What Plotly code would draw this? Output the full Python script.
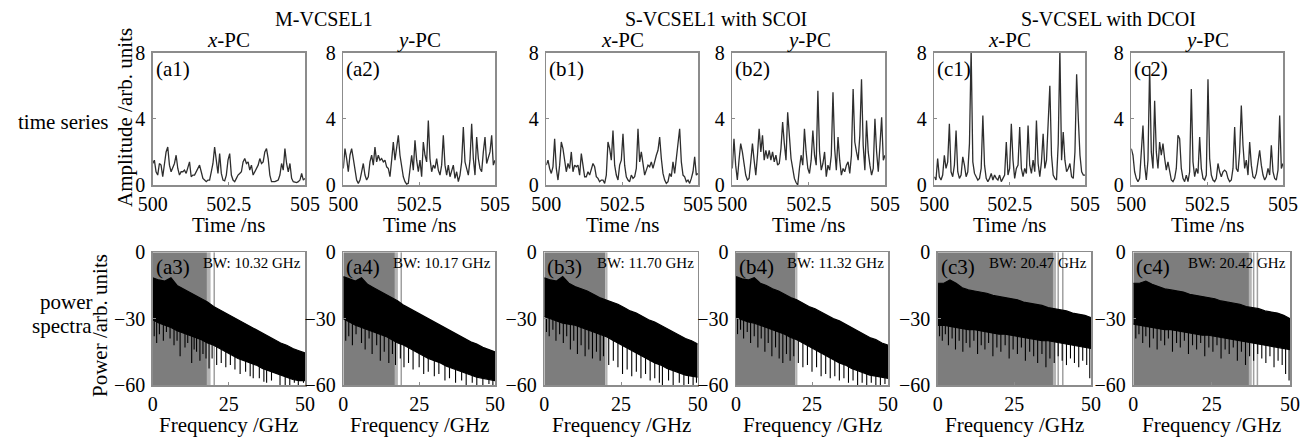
import numpy as np
import plotly.graph_objects as go

W, H = 1311, 439
FONT = "Liberation Serif"

# ---------------- data ----------------
time_ticks = [500, 502.5, 505]
time_ticktext = ["500", "502.5", "505"]
amp_ticks = [0, 4, 8]
freq_ticks = [0, 25, 50]
power_ticks = [-60, -30, 0]
power_ticktext = ["−60", "−30", "0"]

# time series amplitudes (uniformly sampled across 500-505 ns)
amp_a1 = [1.3,1.5,0.8,0.6,1.3,1.2,0.5,1.4,2.0,2.3, 1.2,0.8,1.1,1.3,1.8,1.0,0.6,0.8,0.8,0.9,
          0.7,1.1,1.4,0.5,0.6,0.6,0.8,1.0,1.2,0.8, 0.4,0.3,0.2,0.3,0.3,0.8,1.3,2.3,1.4,0.7,
          1.9,0.7,0.3,0.25,0.6,1.5,1.9,0.6,0.3,0.2, 0.4,0.6,0.7,0.8,1.4,1.6,1.3,1.4,0.9,1.2,
          0.6,0.8,1.0,1.2,1.6,1.3,1.4,2.0,2.2,1.6, 0.6,0.2,0.2,0.2,0.25,0.3,0.6,1.3,0.9,2.2,
          1.3,0.8,1.3,0.4,0.2,0.15,0.15,0.2,0.3,0.7, 0.3,0.4]
amp_a2 = [1.0,2.2,1.6,0.8,1.8,2.2,1.6,0.8,0.3,0.1, 0.3,0.8,1.3,0.6,0.3,0.5,1.4,1.8,1.2,2.3,
          1.4,1.8,1.5,1.6,1.4,1.5,1.1,1.0,0.5,1.5, 2.6,1.5,2.3,3.0,1.8,1.1,0.5,0.2,0.05,0.1,
          0.9,1.8,0.9,2.7,1.5,0.8,1.5,0.5,2.6,1.8, 1.4,3.9,1.6,0.8,1.2,1.0,1.6,0.9,0.6,1.2,
          3.0,1.2,0.6,1.2,0.5,0.8,1.2,0.4,0.8,0.2, 0.6,1.4,3.5,1.4,1.0,0.6,1.5,3.7,1.6,0.6,
          2.9,1.6,1.0,0.8,2.0,2.9,1.3,1.6,2.0,3.0, 1.2,1.5]
amp_b1 = [1.2,1.5,1.0,0.7,1.1,2.8,1.0,0.3,1.2,2.6, 2.2,1.3,0.8,1.3,1.0,2.0,0.8,1.2,1.1,1.2,
          0.6,1.9,1.0,0.5,0.5,0.8,0.6,1.0,1.3,1.1, 0.5,0.4,0.2,0.3,0.3,0.1,0.6,2.6,2.2,1.5,
          3.3,1.2,0.6,0.3,1.2,1.5,3.1,1.2,0.5,0.3, 0.2,0.6,0.4,0.5,1.0,3.4,1.4,2.0,1.3,0.6,
          0.9,1.2,1.1,1.4,1.0,1.5,1.8,2.1,2.9,1.6, 0.7,0.3,0.1,0.2,0.7,0.5,1.4,0.7,1.6,2.1,
          3.4,1.4,0.6,0.5,0.2,0.3,0.1,0.4,0.8,1.7, 0.6,0.7]
amp_b2 = [1.0,2.8,1.2,0.3,1.5,2.5,2.0,1.2,0.6,0.3, 0.4,1.4,2.5,1.5,0.6,1.8,3.4,2.0,3.0,1.5,
          2.1,1.6,2.1,1.5,2.0,1.4,1.8,1.2,1.3,2.2, 3.8,2.5,1.5,4.4,2.6,1.6,1.0,0.4,0.15,0.0,
          1.0,1.8,1.2,3.4,2.0,1.0,0.7,1.5,3.3,1.8, 1.2,5.7,2.0,0.9,1.3,2.0,0.5,1.2,0.9,1.8,
          5.6,2.2,0.9,2.9,1.5,0.6,1.0,0.8,1.2,1.4, 0.7,1.8,5.8,2.6,2.0,1.5,3.0,6.4,2.4,0.9,
          3.9,2.0,1.2,0.6,1.0,4.0,2.0,0.8,2.4,4.1, 1.5,1.8]
amp_c1 = [0.5,0.3,1.6,0.5,0.3,0.6,1.8,1.0,1.4,3.7, 0.8,0.5,1.2,3.3,0.8,0.4,0.6,1.7,1.2,0.5,
          0.8,2.5,8.2,1.4,0.7,0.5,0.3,0.4,1.0,4.2, 1.2,0.4,0.2,0.4,0.7,0.3,0.6,0.4,0.3,0.6,
          0.2,0.4,0.6,2.6,0.6,1.0,3.7,1.5,0.4,1.0, 1.2,3.5,1.0,0.5,1.0,0.7,3.6,1.2,0.7,1.5,
          0.8,3.9,1.3,0.5,1.4,3.1,1.0,1.5,4.0,6.0, 1.8,0.6,0.4,0.3,2.5,8.2,1.5,3.2,1.5,0.8,
          1.0,1.3,0.5,0.4,2.0,6.7,4.0,1.8,0.8,0.6, 0.6]
amp_c2 = [2.2,1.8,0.8,0.4,0.2,0.4,2.0,3.6,1.2,0.3, 1.5,7.2,2.0,1.0,5.1,2.0,1.0,2.6,1.8,2.5,
          1.6,0.9,1.4,0.8,0.3,0.2,0.4,1.0,3.0,2.8, 1.0,0.4,0.2,0.6,0.2,0.8,5.8,1.4,0.5,1.0,
          0.7,2.9,1.0,0.4,0.3,0.6,6.4,1.6,0.6,0.3, 0.2,0.4,1.3,0.8,0.5,0.8,0.9,0.8,0.4,0.2,
          0.3,1.0,3.5,1.0,0.8,2.0,4.8,2.4,1.0,1.5, 0.6,2.6,1.2,0.5,0.4,0.7,1.4,2.1,1.2,0.6,
          0.3,0.5,1.0,0.6,2.4,0.8,0.4,0.3,0.9,4.2, 1.0,1.3]

# power spectra: upper/lower edge of the dense band (dB) on a 2 GHz grid, plus dips
freq_grid = [0,2,4,6,8,10,12,14,16,18,20,22,24,26,28,30,32,34,36,38,40,42,44,46,48,50]

up_a3 = [-11.5,-12.5,-13,-11.5,-15,-16.5,-18,-19.5,-21,-22.5,-24.5,-26,-27.5,-29,-30.5,-32,-33.5,-35,-36.5,-38,-39.5,-41,-42,-43.5,-44.5,-45.5]
lo_a3 = [-30.5,-32,-33,-34,-35.5,-36.5,-37.5,-38.5,-39.5,-41,-42,-43.5,-45,-46.5,-48,-49,-50,-51,-52.5,-53.5,-54.5,-55.5,-56.5,-57.5,-58,-58]
dip_f_a3 = [0.5,1.3,2.2,3.5,4.5,5.7,7,8,9,10.6,11.5,12.8,13.6,14.4,15.5,16.5,17.5,18.5,19.5,21,22.5,24,25.5,27,28.7,30.5,32,33,35,36.5,37.4,39,41.8,43.5,45,46.5,47.8,49.5]
dip_p_a3 = [-38,-41,-37,-40,-36,-39,-42,-40,-47,-43,-41,-50,-44,-45,-49,-46,-48,-52.5,-48,-51,-50,-52,-51,-53,-55,-54,-56,-57,-57,-58.5,-59,-58,-60,-60,-60,-59,-60,-59]

up_a4 = [-11,-12,-13,-11.5,-14.5,-16,-17.5,-19,-20.5,-22,-24,-25.5,-27,-28.5,-30,-31.5,-33,-34.5,-36,-37.5,-39,-40.5,-41.5,-43,-44,-45]
lo_a4 = [-30,-31.5,-33,-34,-35,-36,-37,-38,-39.5,-41,-42,-43.5,-45,-46.5,-48,-49,-50,-51.5,-52.5,-53.5,-54.5,-55.5,-56.5,-57,-57.5,-58]
dip_f_a4 = [0.8,1.8,3,4.2,6,7.2,8.5,9.5,11,12.2,13.5,15,16.2,17.2,18.8,20,21.5,23,25,26.5,28,30,31.5,33.5,35,37,39,40.5,42.5,44,46,48,49.3]
dip_p_a4 = [-40,-38,-42,-37,-41,-44,-39,-46,-42,-49,-45,-50,-46,-51,-48,-52,-50,-53,-52,-55,-54,-56,-55,-58,-57,-59,-58,-60,-59,-60,-60,-59.5,-60]

up_b3 = [-11.5,-12.5,-13,-11,-14,-15.5,-16.5,-17.5,-19,-20.5,-21.5,-22.5,-23.5,-25,-26.5,-27.5,-29,-30.5,-31.5,-33,-34.5,-36,-37.5,-39,-40,-41.5]
lo_b3 = [-29,-30,-31,-32,-32.5,-33,-34,-35,-36,-37,-38,-39.5,-41,-42.5,-44,-45.5,-47,-48.5,-50,-51,-52.5,-53.5,-54.5,-55.5,-56,-56.5]
dip_f_b3 = [0.7,1.6,2.8,3.8,5,6.2,7.3,8.5,9.6,10.8,12,13.3,14.5,15.7,17,18.2,19.3,21,22.5,24,25.5,27,28.5,30,31.5,33,34.5,36,37.5,38.5,40.5,42,44,45.5,47,48.5,49.6]
dip_p_b3 = [-36,-38,-35,-40,-37,-41,-38,-44,-40,-46,-42,-47,-44,-48,-45,-49,-47,-51,-49,-52,-55,-53,-56,-54,-57,-55,-58,-57,-59,-60,-58,-60,-59,-60,-59.5,-60,-59]

up_b4 = [-11,-12,-12.5,-11.5,-14,-15,-16.5,-17.5,-19,-20.5,-21.5,-23,-24.5,-25.5,-27,-28.5,-30,-31,-32.5,-34,-35.5,-37,-38.5,-39.5,-41,-42]
lo_b4 = [-29.5,-30.5,-31.5,-32,-33,-34,-35,-36,-37,-38.5,-39.5,-41,-42.5,-44,-45.5,-47,-48.5,-50,-51,-52.5,-53.5,-54.5,-55.5,-56,-56.5,-57]
dip_f_b4 = [0.5,1.5,2.5,3.7,4.8,6,7.2,8.3,9.5,10.6,11.8,13,14.2,15.4,16.6,17.8,19,20.5,22,23.5,25,26.5,28,29.5,31,32.5,34,35.5,37,38.5,40,41.5,43,44.5,46,47.5,49]
dip_p_b4 = [-37,-35,-39,-36,-41,-38,-43,-39,-45,-41,-47,-43,-48,-50,-46,-49,-47,-50,-52,-51,-54,-52,-56,-55,-57,-56,-58,-57,-59,-58,-60,-59,-60,-59,-60,-60,-59.5]

up_c3 = [-14,-14,-12.5,-14,-16,-17,-17.5,-18,-18.5,-19.5,-20,-20.5,-21,-21.5,-22.5,-23,-23.5,-24,-25,-25.5,-26,-26.5,-27.5,-28,-28.5,-29.5]
lo_c3 = [-33,-33,-33.5,-34,-34.5,-35,-35,-35.5,-36,-36.5,-37,-37,-37.5,-38,-38.5,-39,-39.5,-40,-40,-40.5,-41,-41.5,-42,-42.5,-43,-43.5]
dip_f_c3 = [0.6,1.5,2.5,3.5,4.7,5.8,7,8.2,9.3,10.5,11.8,13,14.2,15.4,16.6,18,19.3,20.6,22,23.3,24.6,26,27.3,28.6,30,31.3,32.6,34,35.3,36.6,38,39.3,40.6,42,43.3,44.6,46,47.3,48.6,49.6]
dip_p_c3 = [-38,-40,-37,-42,-39,-44,-40,-45,-41,-43,-40,-46,-42,-44,-41,-47,-43,-45,-42,-48,-44,-46,-43,-49,-45,-47,-50,-46,-52,-48,-50,-47,-49,-51,-48,-50,-52,-49,-51,-57]

up_c4 = [-14,-14,-13,-14.5,-15.5,-16.5,-17,-17.5,-18,-19,-19.5,-20,-20.5,-21,-22,-22.5,-23,-23.5,-24.5,-25,-25.5,-26.5,-27,-27.5,-28.5,-30]
lo_c4 = [-32.5,-33,-33.5,-34,-34.5,-35,-35,-35.5,-36,-36.5,-37,-37.5,-37.5,-38,-38.5,-39,-39.5,-40,-40.5,-41,-41.5,-42,-42.5,-43,-43.5,-44]
dip_f_c4 = [0.8,1.8,3,4,5.2,6.4,7.6,8.8,10,11.2,12.5,13.8,15,16.3,17.6,18.9,20.2,21.5,22.8,24.1,25.4,26.7,28,29.3,30.6,31.9,33.2,34.5,35.8,37.1,38.4,39.7,41,42.3,43.6,44.9,46.2,47.5,48.6,49.7]
dip_p_c4 = [-39,-37,-41,-38,-43,-39,-44,-40,-42,-39,-45,-41,-43,-40,-46,-42,-44,-41,-47,-43,-45,-42,-48,-44,-46,-43,-49,-45,-51,-47,-49,-46,-48,-50,-47,-52,-49,-51,-55,-58]

# bandwidth shading (GHz)
bw_labels = ["BW: 10.32 GHz", "BW: 10.17 GHz", "BW: 11.70 GHz", "BW: 11.32 GHz", "BW: 20.47 GHz", "BW: 20.42 GHz"]
shade_end = [17.8, 17.0, 19.9, 19.5, 37.6, 36.9]
strip_end = [19.0, 18.0, 20.6, 20.2, 38.6, 37.8]
edge_lines = [[20.2], [19.1], [], [], [39.3, 40.8], [38.4, 39.6]]

group_titles = ["M-VCSEL1", "S-VCSEL1 with SCOI", "S-VCSEL with DCOI"]
pc_titles = ["<i>x</i>-PC", "<i>y</i>-PC"] * 3
top_labels = ["(a1)", "(a2)", "(b1)", "(b2)", "(c1)", "(c2)"]
bot_labels = ["(a3)", "(a4)", "(b3)", "(b4)", "(c3)", "(c4)"]

amps = [amp_a1, amp_a2, amp_b1, amp_b2, amp_c1, amp_c2]
uppers = [up_a3, up_a4, up_b3, up_b4, up_c3, up_c4]
lowers = [lo_a3, lo_a4, lo_b3, lo_b4, lo_c3, lo_c4]
dip_fs = [dip_f_a3, dip_f_a4, dip_f_b3, dip_f_b4, dip_f_c3, dip_f_c4]
dip_ps = [dip_p_a3, dip_p_a4, dip_p_b3, dip_p_b4, dip_p_c3, dip_p_c4]

# ---------------- layout geometry (pixels) ----------------
top_x = [(152.7, 305), (343.3, 495), (546.3, 698), (732.3, 885), (934.3, 1085), (1131.3, 1283)]
bot_x = [(152.7, 305), (343.3, 495), (544.3, 697.7), (736, 888), (937.7, 1091), (1133.3, 1290)]
top_y = (52.7, 185)
bot_y = (252.3, 385)


def fx(p):
    return p / W


def fy(p):
    return 1 - p / H


fig = go.Figure()
layout = dict(width=W, height=H,
              margin=dict(l=0, r=0, t=0, b=0, pad=0, autoexpand=False),
              autosize=False,
              paper_bgcolor="white", plot_bgcolor="white", showlegend=False,
              font=dict(family=FONT, size=20, color="black"))
frame = "#8c8c8c"
axis_common = dict(showline=True, mirror=True, linecolor=frame, linewidth=1.5, automargin=False,
                   ticks="inside", ticklen=3, tickcolor=frame, showgrid=False, zeroline=False,
                   tickfont=dict(family=FONT, size=20, color="black"))


def ax_name(n, kind):
    return kind + ("" if n == 1 else str(n))


shapes = []
annotations = []

for i in range(6):
    # ---- time series panel ----
    n = i + 1
    xn, yn = ax_name(n, "x"), ax_name(n, "y")
    t = np.linspace(500, 505, len(amps[i]))
    fig.add_trace(go.Scatter(x=t, y=amps[i], mode="lines", xaxis=xn, yaxis=yn,
                             line=dict(color="#2e2e2e", width=1.3), hoverinfo="skip"))
    layout[ax_name(n, "xaxis")] = dict(axis_common, domain=[fx(top_x[i][0]), fx(top_x[i][1])],
                                       range=[500, 505], tickvals=time_ticks, ticktext=time_ticktext,
                                       anchor=yn, ticklabelstandoff=0)
    layout[ax_name(n, "yaxis")] = dict(axis_common, domain=[fy(top_y[1]), fy(top_y[0])],
                                       range=[0, 8], tickvals=amp_ticks, anchor=xn, ticklabelstandoff=2)

    # ---- power spectrum panel ----
    m = i + 7
    xm, ym = ax_name(m, "x"), ax_name(m, "y")
    layout[ax_name(m, "xaxis")] = dict(axis_common, domain=[fx(bot_x[i][0]), fx(bot_x[i][1])],
                                       range=[0, 50], tickvals=freq_ticks, anchor=ym, ticklabelstandoff=0)
    layout[ax_name(m, "yaxis")] = dict(axis_common, domain=[fy(bot_y[1]), fy(bot_y[0])],
                                       range=[-60, 0], tickvals=power_ticks, ticktext=power_ticktext,
                                       anchor=xm, ticklabelstandoff=2)
    shapes.append(dict(type="rect", xref=xm, yref=ym, x0=0, x1=shade_end[i], y0=-60, y1=0,
                       fillcolor="#7d7d7d", line=dict(width=0), layer="below"))
    shapes.append(dict(type="rect", xref=xm, yref=ym, x0=shade_end[i], x1=strip_end[i], y0=-60, y1=0,
                       fillcolor="#b4b4b4", line=dict(width=0), layer="below"))
    for e in edge_lines[i]:
        shapes.append(dict(type="line", xref=xm, yref=ym, x0=e, x1=e, y0=-60, y1=0,
                           line=dict(color="#a0a0a0", width=1.5), layer="below"))
    fig.add_trace(go.Scatter(x=freq_grid, y=uppers[i], mode="lines", xaxis=xm, yaxis=ym,
                             line=dict(color="black", width=1.2), hoverinfo="skip"))
    fig.add_trace(go.Scatter(x=freq_grid, y=lowers[i], mode="lines", xaxis=xm, yaxis=ym,
                             fill="tonexty", fillcolor="black",
                             line=dict(color="black", width=1.2), hoverinfo="skip"))
    sx, sy = [], []
    for f, p in zip(dip_fs[i], dip_ps[i]):
        sx += [f, f, None]
        sy += [float(np.interp(f, freq_grid, lowers[i])) + 2, p, None]
    fig.add_trace(go.Scatter(x=sx, y=sy, mode="lines", xaxis=xm, yaxis=ym,
                             line=dict(color="black", width=1.1), hoverinfo="skip"))

    # ---- texts ----
    cx_top = (top_x[i][0] + top_x[i][1]) / 2
    cx_bot = (bot_x[i][0] + bot_x[i][1]) / 2
    annotations.append(dict(text=pc_titles[i], x=fx(cx_top), y=fy(40), xref="paper", yref="paper",
                            showarrow=False, xanchor="center", yanchor="middle", font=dict(size=21)))
    annotations.append(dict(text="Time /ns", x=fx(cx_top), y=fy(225), xref="paper", yref="paper",
                            showarrow=False, xanchor="center", yanchor="middle", font=dict(size=21)))
    annotations.append(dict(text="Frequency /GHz", x=fx(cx_bot), y=fy(425), xref="paper", yref="paper",
                            showarrow=False, xanchor="center", yanchor="middle", font=dict(size=21)))
    annotations.append(dict(text=top_labels[i], x=fx(top_x[i][0] + 1), y=fy(top_y[0] + 2),
                            xref="paper", yref="paper", showarrow=False, xanchor="left", yanchor="top",
                            font=dict(size=21)))
    annotations.append(dict(text=bot_labels[i], x=fx(bot_x[i][0] + 1), y=fy(bot_y[0] + 1),
                            xref="paper", yref="paper", showarrow=False, xanchor="left", yanchor="top",
                            font=dict(size=21)))
    annotations.append(dict(text=bw_labels[i], x=fx(bot_x[i][1] - 2), y=fy(263),
                            xref="paper", yref="paper", showarrow=False, xanchor="right", yanchor="middle",
                            font=dict(size=15)))

group_cx = [(top_x[0][0] + top_x[1][1]) / 2, (top_x[2][0] + top_x[3][1]) / 2, (top_x[4][0] + top_x[5][1]) / 2]
for g, cx in zip(group_titles, group_cx):
    annotations.append(dict(text=g, x=fx(cx), y=fy(19), xref="paper", yref="paper", showarrow=False,
                            xanchor="center", yanchor="middle", font=dict(size=20)))

annotations.append(dict(text="Amplitude /arb. units", x=fx(125), y=fy(118), xref="paper", yref="paper",
                        showarrow=False, textangle=-90, xanchor="center", yanchor="middle", font=dict(size=21)))
annotations.append(dict(text="Power /arb. units", x=fx(100), y=fy(326), xref="paper", yref="paper",
                        showarrow=False, textangle=-90, xanchor="center", yanchor="middle", font=dict(size=21)))
annotations.append(dict(text="time series", x=fx(63), y=fy(122), xref="paper", yref="paper",
                        showarrow=False, xanchor="center", yanchor="middle", font=dict(size=21)))
annotations.append(dict(text="power", x=fx(66), y=fy(302), xref="paper", yref="paper",
                        showarrow=False, xanchor="center", yanchor="middle", font=dict(size=21)))
annotations.append(dict(text="spectra", x=fx(62), y=fy(326), xref="paper", yref="paper",
                        showarrow=False, xanchor="center", yanchor="middle", font=dict(size=21)))

layout["shapes"] = shapes
layout["annotations"] = annotations
fig.update_layout(**layout)
fig.write_html("out.html", config={"displayModeBar": False, "staticPlot": True},
               post_script="document.body.style.margin='0';document.body.style.overflow='hidden';")
